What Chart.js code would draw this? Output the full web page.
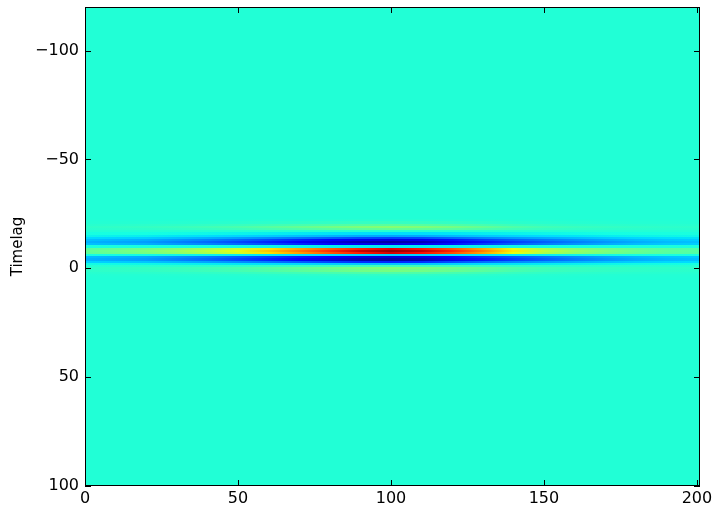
<!DOCTYPE html>
<html>
<head>
<meta charset="utf-8">
<script src="https://cdn.jsdelivr.net/npm/chart.js@4.4.0/dist/chart.umd.min.js"></script>
<style>
  html, body { margin: 0; padding: 0; background: #fff; }
</style>
</head>
<body>
<canvas id="myChart" width="715" height="509"></canvas>
<script>
const xSamples = [0, 10, 20, 30, 40, 50, 60, 70, 80, 90, 100, 110, 120, 130, 140, 150, 160, 170, 180, 190, 200];
// strength of the positive (red/yellow) rows along x
const peakEnvelope = [0.13, 0.16, 0.19, 0.24, 0.31, 0.40, 0.53, 0.66, 0.80, 0.92, 1.0, 0.94, 0.82, 0.65, 0.46, 0.32, 0.24, 0.19, 0.15, 0.12, 0.11];
// strength of the negative (blue) rows along x
const troughEnvelope = [0.25, 0.28, 0.31, 0.38, 0.45, 0.54, 0.64, 0.75, 0.86, 0.96, 1.0, 0.96, 0.82, 0.68, 0.57, 0.48, 0.40, 0.33, 0.27, 0.23, 0.21];
// timelag rows of the band and their value at the strongest column
const timelags = [-22, -21, -20, -19, -18, -17, -16, -15, -14, -13, -12, -11, -10, -9, -8, -7, -6, -5, -4, -3, -2, -1, 0, 1, 2, 3, 4];
const lagProfile = [0.01, 0.04, 0.11, 0.20, 0.13, 0.01, -0.08, -0.17, -0.33, -0.50, -0.59, -0.50, -0.06, 0.86, 0.97, 0.88, -0.10, -0.52, -0.59, -0.38, -0.12, 0.06, 0.19, 0.17, 0.09, 0.03, 0.01];
const xTicks = [0, 50, 100, 150, 200];
const yTicks = [-100, -50, 0, 50, 100];
const vmin = -0.64, vmax = 1.0;

// matplotlib jet
const jetR = [[0, 0], [0.35, 0], [0.66, 1], [0.89, 1], [1, 0.5]];
const jetG = [[0, 0], [0.125, 0], [0.375, 1], [0.64, 1], [0.91, 0], [1, 0]];
const jetB = [[0, 0.5], [0.11, 1], [0.34, 1], [0.65, 0], [1, 0]];
function seg(s, t) {
  for (let k = 0; k < s.length - 1; k++) {
    const [a, va] = s[k], [b, vb] = s[k + 1];
    if (t <= b) return va + (vb - va) * (t - a) / (b - a);
  }
  return s[s.length - 1][1];
}
function jet(v) {
  let t = (v - vmin) / (vmax - vmin);
  t = Math.max(0, Math.min(1, t));
  const r = Math.round(255 * seg(jetR, t));
  const g = Math.round(255 * seg(jetG, t));
  const b = Math.round(255 * seg(jetB, t));
  return 'rgb(' + r + ',' + g + ',' + b + ')';
}
function cellValue(i, j) {
  const p = lagProfile[i];
  return p * (p >= 0 ? peakEnvelope[j] : troughEnvelope[j]);
}

const heatmap = {
  id: 'heatmap',
  beforeDatasetsDraw(chart) {
    const { ctx, chartArea, scales: { x, y } } = chart;
    ctx.save();
    ctx.beginPath();
    ctx.rect(chartArea.left, chartArea.top, chartArea.right - chartArea.left, chartArea.bottom - chartArea.top);
    ctx.clip();
    ctx.fillStyle = jet(0);
    ctx.fillRect(chartArea.left, chartArea.top, chartArea.right - chartArea.left, chartArea.bottom - chartArea.top);
    timelags.forEach((lag, i) => {
      const ya = Math.round(y.getPixelForValue(lag - 0.5));
      const yb = Math.round(y.getPixelForValue(lag + 0.5));
      const top = Math.min(ya, yb), h = Math.abs(yb - ya);
      for (let j = 0; j < xSamples.length; j++) {
        const x0 = Math.round(x.getPixelForValue(xSamples[j]));
        const last = j === xSamples.length - 1;
        const x1 = last ? Math.round(x.getPixelForValue(x.max)) : Math.round(x.getPixelForValue(xSamples[j + 1]));
        if (last) {
          ctx.fillStyle = jet(cellValue(i, j));
        } else {
          const grd = ctx.createLinearGradient(x0, 0, x1, 0);
          grd.addColorStop(0, jet(cellValue(i, j)));
          grd.addColorStop(1, jet(cellValue(i, j + 1)));
          ctx.fillStyle = grd;
        }
        ctx.fillRect(x0, top, x1 - x0 + (last ? 0 : 1), h);
      }
    });
    ctx.restore();
  },
  afterDraw(chart) {
    const { ctx, chartArea: a, scales: { x, y } } = chart;
    ctx.save();
    ctx.strokeStyle = '#000';
    ctx.lineWidth = 1;
    ctx.beginPath();
    xTicks.forEach(v => {
      const px = Math.round(x.getPixelForValue(v)) + 0.5;
      ctx.moveTo(px, a.bottom); ctx.lineTo(px, a.bottom - 6);
      ctx.moveTo(px, a.top); ctx.lineTo(px, a.top + 6);
    });
    yTicks.forEach(v => {
      const py = Math.round(y.getPixelForValue(v)) + 0.5;
      ctx.moveTo(a.left, py); ctx.lineTo(a.left + 6, py);
      ctx.moveTo(a.right, py); ctx.lineTo(a.right - 6, py);
    });
    ctx.stroke();
    ctx.strokeRect(Math.round(a.left) + 0.5, Math.round(a.top) + 0.5, Math.round(a.right - a.left) - 1, Math.round(a.bottom - a.top) - 1);
    ctx.restore();
  }
};

const tickFont = { family: 'DejaVu Sans', size: 16 };
const minus = v => String(v).replace('-', '\u2212');

const ctx = document.getElementById('myChart').getContext('2d');
const myChart = new Chart(ctx, {
  type: 'scatter',
  data: { datasets: [{ data: [] }] },
  options: {
    responsive: false,
    animation: false,
    layout: { padding: { top: 7, right: 15, left: 0, bottom: 0 } },
    plugins: { legend: { display: false }, tooltip: { enabled: false } },
    scales: {
      x: {
        type: 'linear',
        min: 0,
        max: 201,
        grid: { display: false, drawTicks: false },
        border: { display: false },
        afterBuildTicks: s => { s.ticks = xTicks.map(v => ({ value: v })); },
        afterFit: s => { s.height = 23; s.paddingLeft = 0; s.paddingRight = 0; },
        ticks: { font: tickFont, color: '#000', padding: 3, maxRotation: 0, callback: minus }
      },
      y: {
        type: 'linear',
        min: -120,
        max: 100,
        reverse: true,
        grid: { display: false, drawTicks: false },
        border: { display: false },
        afterBuildTicks: s => { s.ticks = yTicks.map(v => ({ value: v })); },
        afterFit: s => { s.width = 85; s.paddingTop = 0; s.paddingBottom = 0; },
        title: { display: true, text: 'Timelag', font: { family: 'DejaVu Sans', size: 15 }, color: '#000', padding: { top: 9, bottom: 0 } },
        ticks: { font: tickFont, color: '#000', padding: 6, callback: minus }
      }
    }
  },
  plugins: [heatmap]
});
</script>
</body>
</html>
